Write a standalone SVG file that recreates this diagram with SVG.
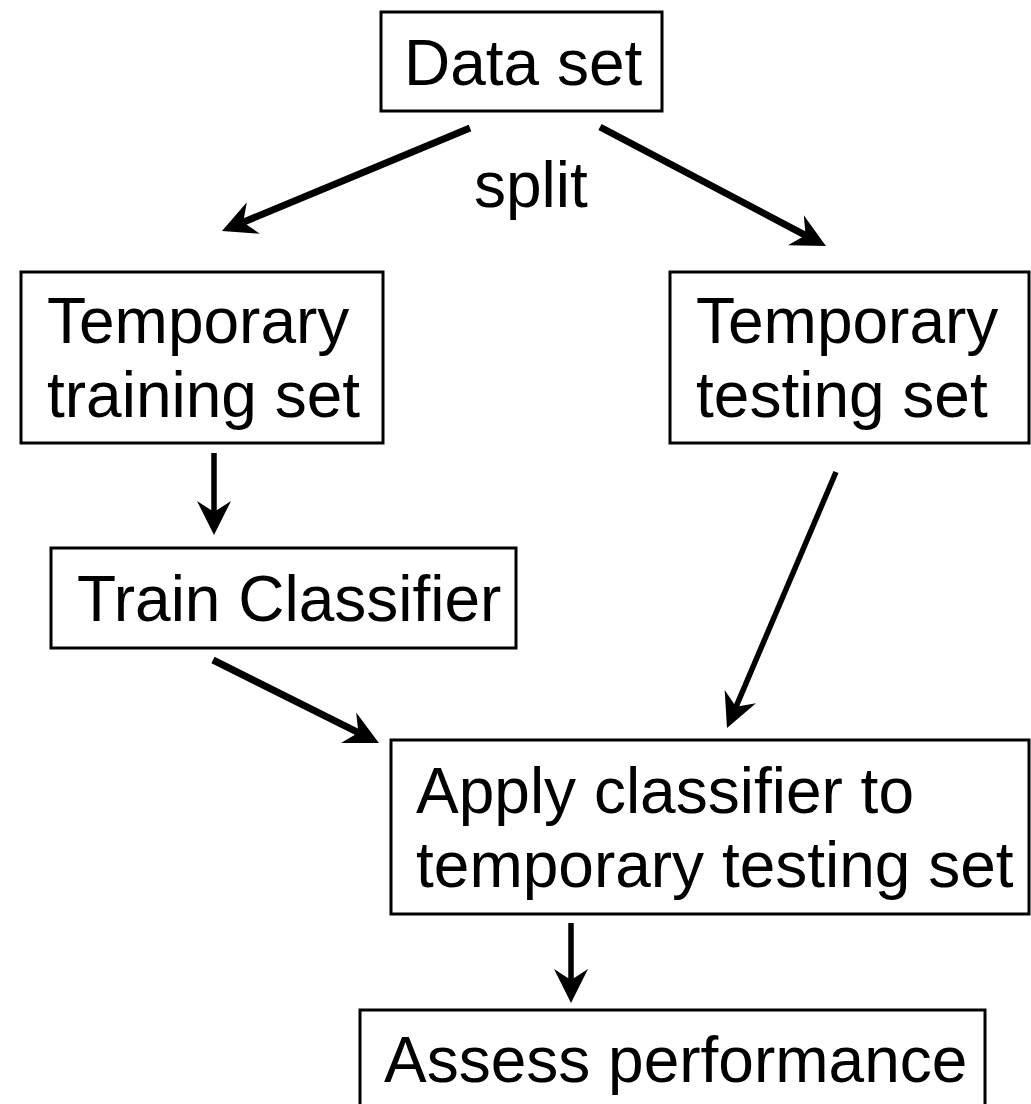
<svg xmlns="http://www.w3.org/2000/svg" width="1031" height="1104" viewBox="0 0 1031 1104">
<style>
.box{fill:#fff;stroke:#000;stroke-width:3}
.t{font-family:"Liberation Sans",Arial,Helvetica,sans-serif;font-size:64px;fill:#000}
.c{stroke:#000;stroke-width:7;fill:none;marker-end:url(#ah)}
.v{stroke-width:5.5}
</style>
<defs>
<marker id="ah" markerUnits="userSpaceOnUse" viewBox="-14 -20 40 40" refX="0" refY="0" markerWidth="40" markerHeight="40" orient="auto">
<path d="M23,0 L-11,-17 L0,0 L-11,17 Z" fill="#000"/>
</marker>
</defs>
<rect width="1031" height="1104" fill="#fff"/>
<g id="connectors">
<line class="c" x1="470" y1="128" x2="243.2" y2="222.2"/>
<line class="c" x1="600" y1="127" x2="805.6" y2="235.3"/>
<line class="c v" x1="214" y1="453" x2="214" y2="512"/>
<line class="c" x1="213" y1="660" x2="358.4" y2="732.7"/>
<line class="c v" x1="836" y1="472" x2="736" y2="706.8"/>
<line class="c v" x1="571" y1="923" x2="571" y2="980"/>
<text class="t" x="474" y="207">split</text>
</g>
<g id="dataset">
<rect class="box" x="381" y="12" width="281" height="99"/>
<text class="t" x="404" y="85">Data set</text>
</g>
<g id="training">
<rect class="box" x="21" y="272" width="362" height="171"/>
<text class="t" x="47" y="343">Temporary</text>
<text class="t" x="47" y="417">training set</text>
</g>
<g id="testing">
<rect class="box" x="670" y="272" width="359" height="171"/>
<text class="t" x="696" y="343">Temporary</text>
<text class="t" x="696" y="417">testing set</text>
</g>
<g id="train">
<rect class="box" x="51" y="548" width="465" height="100"/>
<text class="t" x="77" y="621">Train Classifier</text>
</g>
<g id="apply">
<rect class="box" x="391" y="740" width="638" height="174"/>
<text class="t" x="416" y="813">Apply classifier to</text>
<text class="t" x="416" y="887">temporary testing set</text>
</g>
<g id="assess">
<rect class="box" x="360" y="1010" width="625" height="100"/>
<text class="t" x="384" y="1082">Assess performance</text>
</g>
</svg>
